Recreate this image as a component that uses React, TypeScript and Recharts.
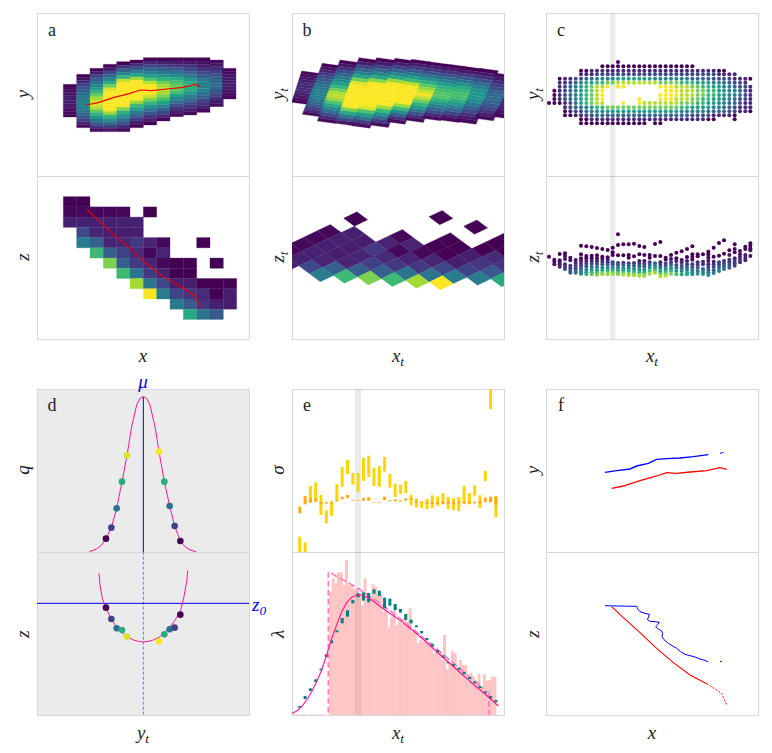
import React from 'react';
import { ComposedChart, XAxis, YAxis, Scatter, Line, Bar, ReferenceArea } from 'recharts';

// ---------- data (panel units: 3 units per pixel) ----------
const heatLeft = [100, 140, 180, 220, 260, 300, 340, 380, 420, 460, 500, 540, 578];
const heatTop = [238, 208, 190, 178, 170, 165, 158, 158, 158, 158, 158, 165, 190];
const heatBottom = [336, 368, 380, 380, 380, 368, 360, 348, 335, 330, 322, 305, 282];
const heatColumns = [
  [0, .02, .04, .06, .07, .08, .08, .07, .06, .04, .02, 0],
  [0, .05, .12, .19, .26, .31, .35, .39, .42, .43, .43, .42, .38, .33, .27, .2, .1, .03],
  [0, .08, .2, .3, .38, .46, .54, .64, .76, .86, .92, .94, .88, .76, .64, .52, .4, .28, .14, .03],
  [0, .08, .22, .33, .46, .6, .78, .95, 1, 1, 1, 1, 1, 1, .85, .66, .5, .36, .2, .06],
  [0, .14, .3, .47, .66, .92, 1, 1, 1, 1, 1, 1, 1, .82, .64, .5, .38, .26, .14, .03],
  [0, .12, .26, .42, .58, .85, 1, 1, 1, 1, 1, 1, .85, .68, .56, .42, .3, .18, .09, 0],
  [0, .1, .2, .32, .44, .56, .72, .9, 1, 1, 1, .93, .8, .66, .52, .38, .27, .17, .07, 0],
  [0, .09, .18, .3, .4, .52, .65, .78, .87, .9, .88, .8, .7, .58, .46, .34, .22, .11, .02],
  [0, .08, .16, .27, .37, .48, .6, .7, .76, .76, .7, .58, .46, .36, .25, .16, .08, .02],
  [0, .07, .14, .22, .31, .41, .52, .6, .63, .62, .54, .44, .34, .24, .15, .08, .02],
  [0, .04, .08, .15, .22, .3, .38, .44, .46, .44, .38, .3, .22, .14, .08, .02],
  [.02, .06, .12, .18, .24, .3, .33, .34, .32, .27, .2, .14, .08, .03],
  [.01, .03, .05, .07, .08, .08, .07, .06, .04, .02],
];
const shearTopX = [50, 112, 165, 222, 275, 330, 380, 432, 485, 535, 585, 635, 690];
const shearTopY = [198, 175, 165, 158, 158, 160, 163, 170, 177, 184, 190, 205, 215];
const shearBottomX = [20, 52, 97, 152, 200, 255, 305, 360, 412, 467, 518, 570, 625];
const shearBottomY = [292, 328, 348, 355, 362, 360, 350, 345, 340, 345, 350, 340, 335];
const shearColumns = [
  [0, .03, .06, .09, .11, .12, .12, .11, .09, .06, .03, 0],
  [0, .05, .1, .17, .23, .28, .33, .37, .4, .43, .44, .43, .4, .35, .28, .2, .12, .03],
  [0, .06, .14, .24, .32, .4, .48, .56, .66, .78, .88, .9, .85, .72, .6, .48, .36, .24, .12, .03],
  [0, .08, .2, .32, .44, .58, .78, .95, 1, 1, 1, 1, 1, 1, 1, .8, .6, .42, .24, .06],
  [0, .08, .2, .32, .46, .6, .82, 1, 1, 1, 1, 1, 1, 1, .95, .72, .55, .38, .2, .05],
  [0, .08, .2, .32, .46, .6, .85, 1, 1, 1, 1, 1, 1, 1, .85, .68, .52, .36, .2, .04],
  [0, .08, .18, .28, .4, .54, .68, .9, 1, 1, 1, 1, 1, 1, .85, .68, .5, .32, .15, .03],
  [0, .08, .16, .26, .38, .5, .62, .74, .84, .92, .98, .9, .78, .66, .54, .42, .28, .14, .03],
  [0, .07, .15, .25, .35, .45, .55, .64, .7, .73, .73, .66, .56, .45, .35, .24, .12, .03],
  [0, .07, .16, .27, .38, .5, .6, .67, .7, .7, .64, .55, .45, .34, .22, .1, .02],
  [0, .07, .15, .25, .35, .44, .5, .53, .53, .48, .4, .32, .24, .15, .08, .02],
  [.02, .06, .12, .18, .24, .3, .34, .36, .33, .28, .22, .15, .08, .03],
  [.01, .03, .05, .08, .1, .11, .11, .09, .06, .02],
];

const _ = null;
const zGrid = [
  [0, 0, _, _, _, _, _, _, _, _, _, _, _],
  [.02, .02, .02, .02, .02, _, 0, _, _, _, _, _, _],
  [.09, .09, .09, .09, .09, .09, _, _, _, _, _, _, _],
  [_, .22, .1, .08, .08, .08, _, _, _, _, _, _, _],
  [_, .42, .3, .1, .1, .17, .1, .02, _, _, 0, _, _],
  [_, _, .68, .3, .2, .12, .02, .1, _, _, _, _, _],
  [_, _, _, .8, .3, .17, .1, .02, 0, 0, _, 0, _],
  [_, _, _, _, .68, .38, .17, .1, 0, 0, _, _, _],
  [_, _, _, _, _, .86, .38, .22, .08, .08, 0, 0, 0],
  [_, _, _, _, _, _, 1, .42, .2, .15, .12, 0, .08],
  [_, _, _, _, _, _, _, _, .42, .28, .15, .08, .08],
  [_, _, _, _, _, _, _, _, _, .6, .38, .28, _],
];

const ridgeX = [168, 205, 250, 300, 330, 365, 410, 460, 495, 512];
const ridgeY = [300, 293, 278, 265, 255, 257, 252, 247, 238, 245];
const ridgeZx = [170, 210, 250, 300, 345, 400, 460, 495, 500, 512];
const ridgeZy = [103, 140, 178, 220, 262, 305, 340, 362, 375, 398];

const dotColX = [27, 43, 59, 75, 91, 107, 123, 139, 155, 171, 187, 203, 218, 234, 250, 266, 282, 298, 313, 329, 345, 361, 377, 393, 409, 425, 441, 457, 473, 489, 505, 521, 537, 552, 568, 584, 600, 616, 631];
const dotRowY = [184, 197, 208, 221, 233, 245, 257, 270, 282, 294, 307, 319, 331, 343, 355];
const dotRows = [
  '..........' + '000000000000000000' + '...........',
  '......' + '0011111111111111111111111100' + '.....',
  '......' + '111' + '22222222222222222222222' + '1111' + '...',
  '..' + '0112' + '2334' + '444555555544444' + '44333322221110',
  '..' + '1123' + '4556' + '677888888887777' + '6665554433221' + '.',
  '..' + '1234' + '56788' + '9' + '.' + '99' + '......' + '99' + '9888776655443221',
  '.' + '0' + '1234' + '5678' + '9' + '...........' + '9' + '9988877665544321',
  '.' + '0' + '1234' + '5678' + '9' + '..........' + '99' + '9988877665544321',
  '.' + '0' + '1234' + '5678' + '9' + '......' + '9' + '...' + '99' + '9888776655443221',
  '00' + '0123' + '56788' + '...' + '9' + '..' + '9' + '8888' + '88877766554433211',
  '...' + '123' + '34566' + '77777777777777' + '66555544332111',
  '...' + '012' + '23444' + '55555555555555' + '44444333322110',
  '...' + '001' + '12233' + '33333333333333' + '33222211110' + '...',
  '......' + '00111111111111111111111100' + '...' + '0' + '...',
  '......' + '0000000000000' + '.' + '00' + '.................',
];
const dotOutlierX = [234];
const dotOutlierY = [171];

const lowerDotY = [
  [245], [254, 260, 268], [237, 256, 262, 268, 275], [235, 243, 252, 268, 275, 282],
  [248, 256, 272, 280, 288, 293], [255, 263, 272, 280, 288, 293],
  [212, 238, 250, 258, 266, 274, 282, 290, 296], [214, 243, 250, 258, 266, 274, 284, 292, 297],
  [216, 242, 250, 258, 266, 276, 284, 292, 298], [219, 241, 250, 258, 266, 276, 286, 293, 299],
  [222, 245, 252, 260, 268, 278, 286, 294, 298], [225, 247, 254, 262, 270, 280, 288, 295, 298],
  [218, 232, 240, 262, 268, 276, 284, 292, 297], [178, 210, 241, 264, 270, 278, 286, 294, 298],
  [208, 241, 263, 270, 280, 286, 294, 299], [208, 240, 248, 265, 272, 280, 288, 296, 300],
  [206, 244, 264, 272, 282, 290, 298, 301], [213, 238, 258, 266, 274, 284, 292, 300, 302],
  [216, 240, 258, 266, 274, 284, 292, 298, 303], [240, 248, 262, 270, 278, 288, 296],
  [207, 243, 265, 272, 280, 288, 293], [201, 243, 262, 270, 278, 288, 296, 304],
  [248, 254, 266, 274, 282, 290, 296, 302], [240, 252, 262, 270, 280, 288, 296],
  [233, 250, 258, 270, 278, 288, 298], [229, 255, 262, 272, 280, 288, 298],
  [222, 246, 258, 268, 276, 284, 294, 298], [214, 238, 246, 254, 268, 276, 284, 292, 298],
  [238, 244, 262, 270, 278, 288, 296], [238, 260, 268, 282, 290, 297],
  [230, 238, 248, 258, 268, 276, 284, 292, 300], [218, 245, 260, 268, 276, 286, 294],
  [204, 242, 262, 270, 278, 288], [196, 236, 258, 266, 274, 282],
  [226, 240, 254, 262, 270, 278], [208, 222, 232, 250, 258, 265, 272],
  [228, 238, 246, 254, 262], [215, 222, 240, 248, 256], [205, 212, 220, 226, 243],
];
const lowerDotPeak = [0, .05, .1, .2, .3, .35, .45, .6, .75, .8, .85, .85, .85, .8, .85, .85, .85, .85, .85, .85, .85, .9, .9, .8, .7, .6, .6, .55, .5, .5, .45, .4, .4, .35, .3, .2, .15, .1, .05];

const qCurveX = [238, 260, 275, 288, 304, 320, 336, 351, 365, 380, 390, 400, 410, 420, 435, 447, 463, 479, 494, 511, 525, 540, 558];
const qCurveY = [545, 537, 525, 506, 473, 415, 335, 256, 170, 105, 85, 80, 85, 105, 170, 245, 335, 408, 468, 513, 530, 540, 545];
const qDotX = [288, 304, 320, 336, 351, 447, 463, 479, 494, 511];
const qDotY = [506, 473, 415, 335, 256, 245, 335, 408, 468, 513];
const dotShade = [0, .2, .38, .62, .95, 1, .62, .38, .2, 0];
const wellCurveX = [267, 270, 277, 288, 304, 320, 336, 351, 370, 385, 400, 415, 430, 447, 463, 479, 494, 511, 522, 530, 533];
const wellCurveY = [70, 105, 145, 175, 207, 232, 248, 260, 270, 274, 276, 274, 270, 262, 248, 232, 212, 185, 140, 95, 62];
const wellDotX = [288, 304, 320, 336, 351, 447, 463, 479, 494, 511];
const wellDotY = [173, 207, 235, 240, 260, 274, 253, 238, 233, 194];

const sigmaLo = [470, 487, 318, 307, 345, 391, 365, 312, 261, 240, 279, 279, 233, 227, 264, 258, 231, 282, 311, 314, 303, 345, 355, 364, 357, 346, 350, 339, 351, 355, 351, 318, 339, 316, 346, 273, 28, 349];
const sigmaHi = [517, 517, 368, 365, 405, 430, 407, 365, 320, 282, 314, 335, 303, 291, 318, 320, 275, 323, 351, 342, 340, 376, 382, 384, 388, 384, 377, 373, 387, 390, 393, 370, 373, 347, 384, 303, 87, 411];
const sigmaMidLo = [380, 348, 355, 355, 365, 366, 365, 360, 350, 345, 359, 360, 354, 352, 367, 367, 350, 360, 358, 361, 355, 355, 362, 365, 365, 365, 365, 365, 365, 365, 365, 365, 365, 365, 362, 353, 350, 350];
const sigmaMidHi = [400, 373, 367, 365, 372, 371, 371, 363, 358, 354, 362, 362, 362, 362, 369, 369, 360, 364, 364, 365, 362, 360, 367, 368, 372, 372, 372, 372, 372, 372, 370, 371, 371, 370, 371, 367, 367, 375];
const lambdaLo = [468, 438, 415, 388, 356, 313, 271, 241, 204, 181, 150, 130, 127, 129, 118, 122, 143, 146, 162, 177, 192, 209, 226, 243, 264, 281, 300, 316, 335, 342, 353, 366, 381, 394, 408, 424, 438, 450];
const lambdaHi = [473, 447, 423, 396, 361, 321, 280, 247, 220, 200, 160, 142, 152, 157, 131, 138, 175, 167, 180, 188, 210, 220, 232, 250, 270, 289, 308, 324, 340, 348, 359, 373, 387, 400, 414, 430, 446, 457];
const histTop = [125, 85, 100, 67, 67, 105, 30, 105, 105, 118, 115, 130, 165, 85, 130, 140, 103, 110, 135, 130, 185, 175, 232, 200, 180, 225, 215, 222, 200, 215, 175, 245, 250, 280, 270, 275, 265, 285, 290, 310, 300, 310, 330, 255, 358, 340, 303, 310, 355, 330, 345, 345, 395, 368, 380, 400, 372, 410, 373, 392, 390, 380, 380];
const fitX = [20, 35, 50, 65, 80, 95, 110, 125, 140, 155, 170, 185, 200, 215, 230, 245, 260, 300, 350, 400, 450, 500, 550, 600, 640];
const fitY = [491, 483, 470, 450, 425, 395, 360, 315, 265, 225, 185, 158, 142, 135, 135, 142, 150, 180, 215, 255, 300, 345, 390, 432, 468];
const envX = [138, 215, 300, 400, 500, 595];
const envY = [70, 112, 170, 250, 335, 415];

const fyBlueX = [45, 80, 120, 140, 175, 200, 230, 270, 310, 355];
const fyBlueY = [97, 92, 87, 78, 70, 58, 56, 54, 50, 44];
const fyBlueEndX = [390, 400];
const fyBlueEndY = [40, 37];
const fyRedX = [65, 100, 150, 200, 230, 260, 300, 350, 390, 410];
const fyRedY = [145, 138, 122, 108, 98, 100, 96, 92, 83, 88];
const fzBlueX = [45, 80, 140, 143, 150, 165, 178, 176, 172, 180, 195, 208, 204, 197, 205, 215, 218, 216, 222, 235, 248, 260, 272, 285, 300, 315, 330, 345, 355];
const fzBlueY = [32, 33, 34, 42, 50, 55, 58, 66, 73, 79, 80, 82, 88, 95, 102, 108, 115, 125, 134, 145, 153, 160, 170, 178, 182, 186, 192, 196, 201];
const fzBlueEndX = [390, 400];
const fzBlueEndY = [200, 198];
const fzRedX = [65, 100, 150, 200, 250, 300, 350];
const fzRedY = [35, 68, 113, 160, 203, 240, 266];
const fzRedEndX = [350, 395, 410];
const fzRedEndY = [266, 295, 330];

// ---------- helpers ----------
const PW = 212;
const PH = 163;
const VIRIDIS = ['#440154', '#482878', '#3e4989', '#31688e', '#26828e', '#1f9e89', '#35b779', '#6ece58', '#b5de2b', '#fde725'];
const hex = (s: string) => [1, 3, 5].map((k) => parseInt(s.slice(k, k + 2), 16));
function viridis(t: number) {
  const u = Math.max(0, Math.min(1, t)) * (VIRIDIS.length - 1);
  const a = Math.min(Math.floor(u), VIRIDIS.length - 2);
  const f = u - a;
  const A = hex(VIRIDIS[a]);
  const B = hex(VIRIDIS[a + 1]);
  return `rgb(${A.map((c, k) => Math.round(c + (B[k] - c) * f)).join(',')})`;
}
const zip = (xs: number[], ys: number[]) => xs.map((x, k) => ({ x, y: ys[k] }));

const heatPlain = heatColumns.flatMap((vals, c) => {
  const h = (heatBottom[c] - heatTop[c]) / vals.length;
  return vals.map((v, k) => ({ x: heatLeft[c] + 20, y: heatTop[c] + (k + .5) * h, v, ux: 40, uy: 0, vx: 0, vy: h }));
});
const heatShear = shearColumns.flatMap((vals, c) => {
  const vx = (shearBottomX[c] - shearTopX[c]) / vals.length;
  const vy = (shearBottomY[c] - shearTopY[c]) / vals.length;
  return vals.map((v, k) => ({
    x: shearTopX[c] + 27.5 + (k + .5) * vx,
    y: shearTopY[c] + 3.7 + (k + .5) * vy,
    v, ux: 55, uy: 7.5, vx, vy,
  }));
});
const zCells = zGrid.flatMap((row, r) => row.flatMap((v, c) => (v === null ? [] : [{ c, r, v }])));
const zPlain = zCells.map(({ c, r, v }) => ({ x: 120 + 40 * c, y: 80.3 + 30.7 * r, v, ux: 40, uy: 0, vx: 0, vy: 30.7 }));
const zShear = zCells.map(({ c, r, v }) => ({
  x: 212 + 39.8 * (c - 6) + 32.2 * (r - 1),
  y: 132 - 19 * (c - 6) + 23.9 * (r - 1),
  v, ux: 39.8, uy: -19, vx: 32.2, vy: 23.9,
}));
const gridDots = dotRows.flatMap((row, r) => dotColX.flatMap((x, c) => {
  const d = row.charAt(c);
  return d >= '0' && d <= '9' ? [{ x, y: dotRowY[r], v: Number(d) / 9 }] : [];
})).concat(dotOutlierX.map((x, k) => ({ x, y: dotOutlierY[k], v: 0 })));
const lowerDots = lowerDotY.flatMap((ys, c) => {
  const base = Math.max(...ys);
  return ys.map((y) => ({ x: dotColX[c], y, v: lowerDotPeak[c] * Math.pow(Math.max(0, 1 - (base - y) / 50), 1.3) }));
});
const qDots = qDotX.map((x, k) => ({ x, y: qDotY[k], v: dotShade[k] }));
const wellDots = wellDotX.map((x, k) => ({ x, y: wellDotY[k], v: dotShade[k] }));
const sigmaBins = Array.from({ length: 40 }, (_u, i) => ({
  i,
  gold: i >= 1 && i <= 38 ? [sigmaLo[i - 1], sigmaHi[i - 1]] : undefined,
  mid: i >= 1 && i <= 38 ? [sigmaMidLo[i - 1], sigmaMidHi[i - 1]] : undefined,
}));
const lambdaBins = Array.from({ length: 40 }, (_u, i) => ({
  i, teal: i >= 1 && i <= 38 ? [lambdaLo[i - 1], lambdaHi[i - 1]] : undefined,
}));
const histBins = Array.from({ length: 80 }, (_u, i) => ({
  i, pink: i >= 14 && i - 14 < histTop.length ? [histTop[i - 14], 495] : undefined,
}));

const Cell = (p: any) => {
  const { cx, cy, payload: d } = p;
  const k = 1 / 6;
  const pts = [[-1, -1], [1, -1], [1, 1], [-1, 1]].map(([a, b]) => `${cx + k * (a * d.ux + b * d.vx)},${cy + k * (a * d.uy + b * d.vy)}`).join(' ');
  const col = viridis(d.v);
  return <polygon points={pts} fill={col} stroke={col} strokeWidth={0.3} />;
};
const Dot = (r: number) => (p: any) => <circle cx={p.cx} cy={p.cy} r={r} fill={viridis(p.payload.v)} />;
const SmallDot = Dot(2);
const BigDot = Dot(3.3);

const MATH = '"Liberation Serif", serif';
const T = ({ x, y, rot, color, size = 19, children }: any) => (
  <div style={{ position: 'absolute', left: x, top: y, transform: `translate(-50%,-50%)${rot ? ' rotate(-90deg)' : ''}`, fontFamily: MATH, fontSize: size, color: color || '#222', whiteSpace: 'nowrap', lineHeight: 1 }}>{children}</div>
);
const M = ({ v, s }: any) => (
  <span><i>{v}</i>{s !== undefined ? <sub style={{ fontSize: '.7em', lineHeight: 0 }}><i>{s}</i></sub> : null}</span>
);

type Frame = { left: number; top: number; ox: number; oy: number };
const chartStyle: any = { position: 'absolute', left: 0, top: 0 };
const NumAxes = (f: Frame) => [
  <XAxis key="x" dataKey="x" type="number" hide allowDataOverflow domain={[(f.left - f.ox) * 3, (f.left + PW - f.ox) * 3]} />,
  <YAxis key="y" dataKey="y" type="number" hide allowDataOverflow reversed domain={[(f.top - f.oy) * 3, (f.top + PH - f.oy) * 3]} />,
];
const BinAxes = (f: Frame) => [
  <XAxis key="x" dataKey="i" type="category" hide />,
  <YAxis key="y" type="number" hide allowDataOverflow reversed domain={[(f.top - f.oy) * 3, (f.top + PH - f.oy) * 3]} />,
];
const Layer = ({ f, children, data }: any) => (
  <ComposedChart width={PW} height={PH} data={data} margin={{ top: 0, right: 0, bottom: 0, left: 0 }} style={chartStyle}>
    {NumAxes(f)}
    {children}
  </ComposedChart>
);
const Box = ({ f, bg, children }: any) => (
  <div style={{ position: 'absolute', left: f.left, top: f.top, width: PW, height: PH }}>
    <div style={{ position: 'absolute', left: 0, top: 0, width: PW + 1, height: PH + 1, boxSizing: 'border-box', border: '1px solid #d8d8d8', background: bg || 'transparent' }} />
    {children}
  </div>
);
const Pts = (data: any[], shape: any) => <Scatter data={data} shape={shape} isAnimationActive={false} />;
const Ln = (data: any[], stroke: string, w: number, dash?: string) => (
  <Line data={data} dataKey="y" type="linear" stroke={stroke} strokeWidth={w} strokeDasharray={dash} dot={false} activeDot={false} isAnimationActive={false} />
);
const Band = (a: number, b: number) => <ReferenceArea x1={a} x2={b} fill="rgba(120,120,120,0.15)" fillOpacity={1} stroke="none" />;

const LX = [37, 292, 546];
const TY = [13, 176, 389, 552];
const F = {
  a1: { left: LX[0], top: TY[0], ox: 30, oy: 5 },
  a2: { left: LX[0], top: TY[1], ox: 30, oy: 175 },
  b1: { left: LX[1], top: TY[0], ox: 285, oy: 5 },
  b2: { left: LX[1], top: TY[1], ox: 285, oy: 175 },
  c1: { left: LX[2], top: TY[0], ox: 540, oy: 5 },
  c2: { left: LX[2], top: TY[1], ox: 540, oy: 175 },
  d1: { left: LX[0], top: TY[2], ox: 10, oy: 370 },
  d2: { left: LX[0], top: TY[3], ox: 10, oy: 550 },
  e1: { left: LX[1], top: TY[2], ox: 285, oy: 380 },
  e2: { left: LX[1], top: TY[3], ox: 285, oy: 550 },
  f1: { left: LX[2], top: TY[2], ox: 590, oy: 440 },
  f2: { left: LX[2], top: TY[3], ox: 590, oy: 595 },
};
const PINK = '#ff1493';

export default function App() {
  return (
    <div style={{ position: 'absolute', left: 0, top: 0, width: 772, height: 753, background: '#fff', overflow: 'hidden' }}>
      <Box f={F.a1}>
        <Layer f={F.a1}>{Pts(heatPlain, Cell)}</Layer>
        <Layer f={F.a1}>{Ln(zip(ridgeX, ridgeY), '#f00000', 1.2)}</Layer>
      </Box>
      <Box f={F.a2}>
        <Layer f={F.a2}>{Pts(zPlain, Cell)}</Layer>
        <Layer f={F.a2}>{Ln(zip(ridgeZx, ridgeZy), '#f00000', 1.1)}</Layer>
      </Box>
      <Box f={F.b1}><Layer f={F.b1}>{Pts(heatShear, Cell)}</Layer></Box>
      <Box f={F.b2}><Layer f={F.b2}>{Pts(zShear, Cell)}</Layer></Box>
      <Box f={F.c1}><Layer f={F.c1}>{Band(210, 226)}{Pts(gridDots, SmallDot)}</Layer></Box>
      <Box f={F.c2}><Layer f={F.c2}>{Band(210, 226)}{Pts(lowerDots, SmallDot)}</Layer></Box>

      <Box f={F.d1} bg="#ebebeb"><Layer f={F.d1}>
        {Ln(zip([400, 400], [80, 547]), '#0000ee', 1)}
        {Ln(zip(qCurveX, qCurveY), PINK, 1)}
        {Pts(qDots, BigDot)}
      </Layer></Box>
      <Box f={F.d2} bg="#ebebeb"><Layer f={F.d2}>
        {Ln(zip([400, 400], [5, 493]), '#7070ee', 1, '3 2')}
        {Ln(zip([80, 718], [160, 160]), '#0000ee', 1)}
        {Ln(zip(wellCurveX, wellCurveY), PINK, 1)}
        {Pts(wellDots, BigDot)}
      </Layer></Box>

      <Box f={F.e1}>
        <Layer f={F.e1}>{Band(210, 228)}</Layer>
        <ComposedChart width={PW} height={PH} data={sigmaBins} barGap={-3} barSize={3} barCategoryGap={0} margin={{ top: 0, right: 0, bottom: 0, left: 0 }} style={chartStyle}>
          {BinAxes(F.e1)}
          <Bar dataKey="gold" fill="#ffd400" isAnimationActive={false} />
          <Bar dataKey="mid" fill="#ffa81a" isAnimationActive={false} />
        </ComposedChart>
      </Box>
      <Box f={F.e2}>
        <ComposedChart width={PW} height={PH} data={histBins} barCategoryGap={0} margin={{ top: 0, right: 0, bottom: 0, left: 0 }} style={chartStyle}>
          {BinAxes(F.e2)}
          <Bar dataKey="pink" fill="#ffc4c4" isAnimationActive={false} />
        </ComposedChart>
        <Layer f={F.e2}>
          {Band(210, 228)}
          {Ln(zip([20, 130], [494, 494]), '#ffd0e4', 1, '6 3')}
          {Ln(zip([130, 130], [65, 495]), '#ff7fbf', 1.7, '6 3')}
          {Ln(zip([612, 612], [425, 495]), '#ff7fbf', 1.7, '6 3')}
          {Ln(zip(envX, envY), '#ff7fbf', 1.7, '7 3')}
        </Layer>
        <ComposedChart width={PW} height={PH} data={lambdaBins} barSize={3} barCategoryGap={0} margin={{ top: 0, right: 0, bottom: 0, left: 0 }} style={chartStyle}>
          {BinAxes(F.e2)}
          <Bar dataKey="teal" fill="#008080" isAnimationActive={false} />
        </ComposedChart>
        <Layer f={F.e2}>{Ln(zip(fitX, fitY), PINK, 1.1)}</Layer>
      </Box>

      <Box f={F.f1}><Layer f={F.f1}>
        {Ln(zip(fyBlueX, fyBlueY), '#0000ff', 1.4)}
        {Ln(zip(fyBlueEndX, fyBlueEndY), '#0000ff', 1)}
        {Ln(zip(fyRedX, fyRedY), '#ff0000', 1.3)}
      </Layer></Box>
      <Box f={F.f2}><Layer f={F.f2}>
        {Ln(zip(fzBlueX, fzBlueY), '#0000ff', 1)}
        {Ln(zip(fzBlueEndX, fzBlueEndY), '#0000ff', 1, '2 2')}
        {Ln(zip(fzRedX, fzRedY), '#ff0000', 1.1)}
        {Ln(zip(fzRedEndX, fzRedEndY), '#ff0000', 1, '2 1.5')}
      </Layer></Box>

      {['a', 'b', 'c', 'd', 'e', 'f'].map((s, k) => (
        <T key={s} x={LX[k % 3] + 15} y={k < 3 ? 30 : 405} size={18}>{s}</T>
      ))}
      <T x={22} y={94} rot><M v="y" /></T>
      <T x={22} y={257} rot><M v="z" /></T>
      <T x={277} y={94} rot><M v="y" s="t" /></T>
      <T x={277} y={257} rot><M v="z" s="t" /></T>
      <T x={532} y={94} rot><M v="y" s="t" /></T>
      <T x={532} y={257} rot><M v="z" s="t" /></T>
      <T x={22} y={470} rot><M v="q" /></T>
      <T x={22} y={634} rot><M v="z" /></T>
      <T x={277} y={470} rot><M v="σ" /></T>
      <T x={277} y={634} rot><M v="λ" /></T>
      <T x={532} y={470} rot><M v="y" /></T>
      <T x={532} y={634} rot><M v="z" /></T>
      <T x={143} y={355}><M v="x" /></T>
      <T x={398} y={355}><M v="x" s="t" /></T>
      <T x={652} y={355}><M v="x" s="t" /></T>
      <T x={143} y={732}><M v="y" s="t" /></T>
      <T x={398} y={732}><M v="x" s="t" /></T>
      <T x={652} y={732}><M v="x" /></T>
      <T x={143} y={381} color="#0000ee"><M v="μ" /></T>
      <T x={259} y={604} color="#0000ee"><M v="z" s="0" /></T>
    </div>
  );
}
